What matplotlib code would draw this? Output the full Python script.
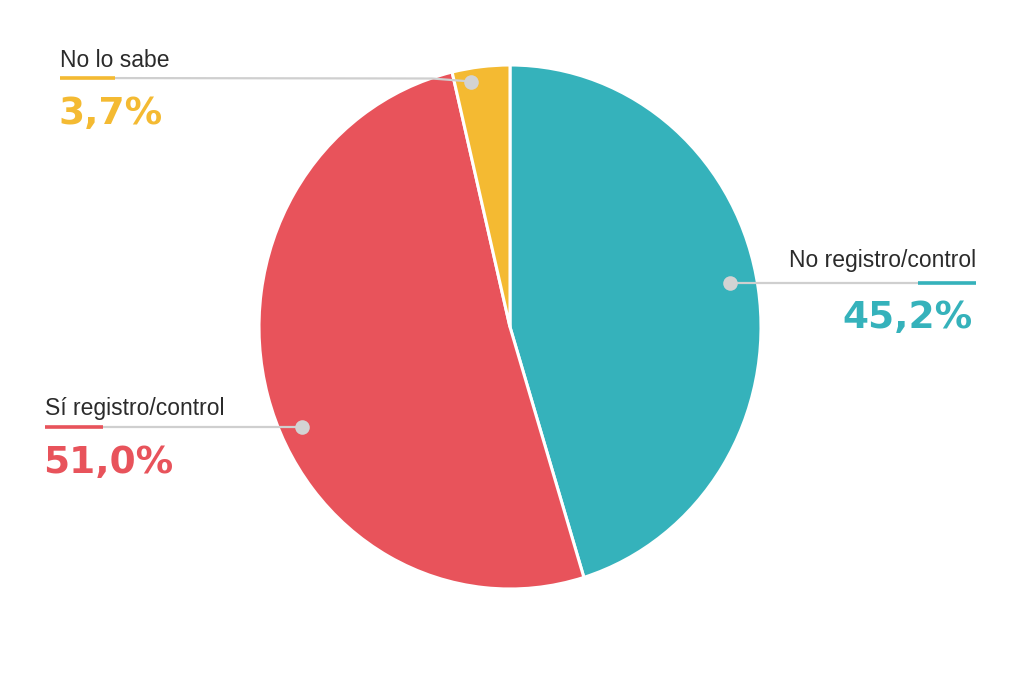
import matplotlib
matplotlib.use("Agg")
import matplotlib.pyplot as plt
from matplotlib.transforms import Affine2D

# ---- data ----
categories = ["No registro/control", "Sí registro/control", "No lo sabe"]
values = [45.2, 51.0, 3.7]
value_labels = ["45,2%", "51,0%", "3,7%"]
colors = ["#35B2BB", "#E8535B", "#F4BA32"]

W, H = 1024, 683
fig = plt.figure(figsize=(W / 100, H / 100), dpi=100)
fig.patch.set_facecolor("white")
ax = fig.add_axes([0, 0, 1, 1])

ax.pie(values, colors=colors, startangle=90, counterclock=False, radius=1.0,
       center=(0, 0), wedgeprops=dict(edgecolor="white", linewidth=2.2))
ax.set_aspect("auto")
cx, cy, rx, ry = 510, 327, 251, 262
ax.set_xlim(-cx / rx, (W - cx) / rx)
ax.set_ylim(-(H - cy) / ry, cy / ry)
ax.axis("off")

# pixel transform (x right, y down)
pix = Affine2D().scale(1 / W, -1 / H).translate(0, 1) + fig.transFigure

label_font = ["Liberation Sans", "DejaVu Sans"]
num_font = ["DejaVu Sans"]
gray_line = "#CFCFCF"
dot_color = "#D3D3D3"
text_color = "#2B2B2B"

layout = {
    "No registro/control": dict(tx=976, ty=267, nx=973, ny=328, ha="right",
                                line=[(730, 283), (976, 283)], acc=(918, 976), ly=283, dot=(730, 283)),
    "Sí registro/control": dict(tx=45, ty=415, nx=43, ny=473, ha="left",
                                line=[(45, 427), (302, 427)], acc=(45, 103), ly=427, dot=(302, 427)),
    "No lo sabe": dict(tx=60, ty=67, nx=58, ny=124, ha="left",
                       line=[(60, 78), (432, 78.5), (471, 81.5)], acc=(60, 115), ly=78, dot=(471, 81.5)),
}

for cat, lab, col in zip(categories, value_labels, colors):
    L = layout[cat]
    xs = [p[0] for p in L["line"]]
    ys = [p[1] for p in L["line"]]
    ax.plot(xs, ys, color=gray_line, lw=1.6, transform=pix, solid_capstyle="butt", zorder=5)
    ax.plot([L["acc"][0], L["acc"][1]], [L["ly"], L["ly"]], color=col, lw=2.6,
            transform=pix, solid_capstyle="butt", zorder=6)
    ax.plot([L["dot"][0]], [L["dot"][1]], marker="o", markersize=10.5, color=dot_color,
            markeredgewidth=0, transform=pix, zorder=7)
    ax.text(L["tx"], L["ty"], cat, transform=pix, ha=L["ha"], va="baseline",
            fontsize=16.5, color=text_color, family=label_font)
    ax.text(L["nx"], L["ny"], lab, transform=pix,
            ha=L["ha"], va="baseline", fontsize=27, fontweight="bold", color=col,
            family=num_font)

fig.savefig("out.png", dpi=100, facecolor="white")
